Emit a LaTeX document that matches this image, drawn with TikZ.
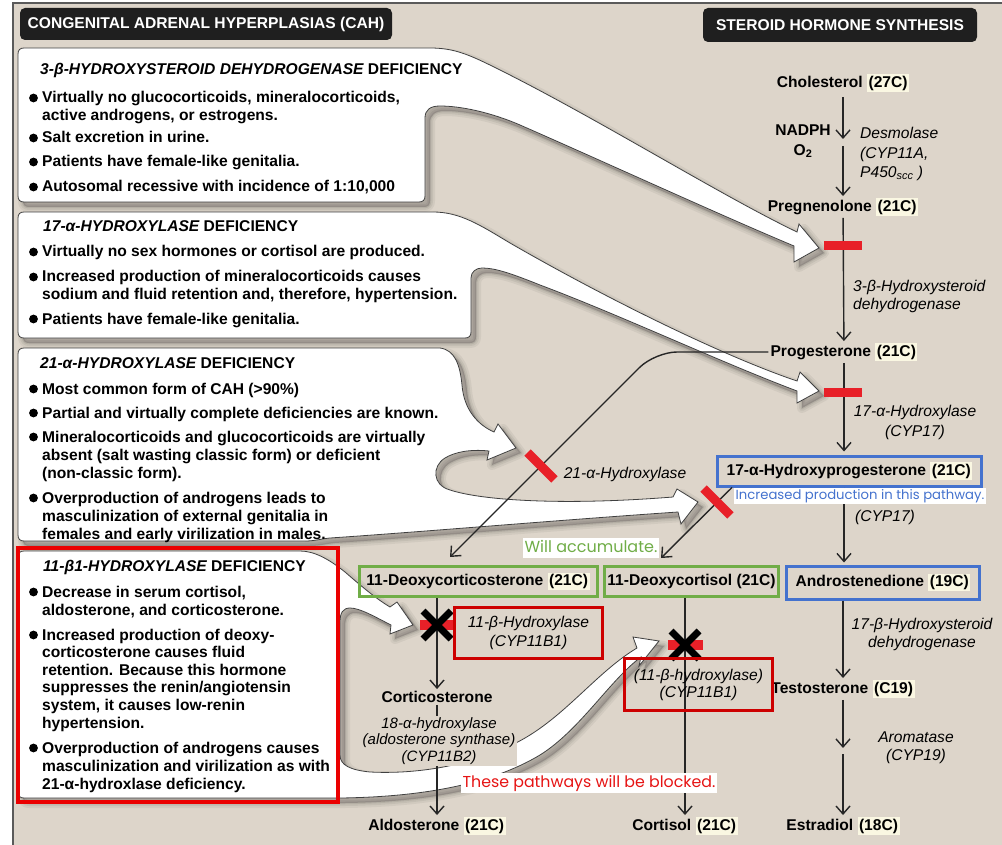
\documentclass[tikz,border=0pt]{standalone}
\usepackage{fontspec}
\setmainfont{Liberation Sans}
\newfontfamily\annofont{Poppins}
\usetikzlibrary{arrows.meta}
\definecolor{beige}{RGB}{221,213,202}
\definecolor{hly}{RGB}{250,247,226}
\definecolor{myblue}{RGB}{68,114,206}
\definecolor{mygreen}{RGB}{112,173,71}
\definecolor{boxred}{RGB}{205,0,0}
\definecolor{bigred}{RGB}{235,0,0}
\definecolor{barred}{RGB}{232,32,40}
\definecolor{annored}{RGB}{230,20,20}
\definecolor{framegray}{RGB}{90,90,90}
\newcommand\hl[1]{{\setlength{\fboxsep}{1.5pt}\colorbox{hly}{#1}}}
\newcommand\fsz{\fontsize{15.6}{18}\selectfont}
\newcommand\pbl[2]{\parbox[t]{#1}{\raggedright #2}}
\def\shpA{(24,48) -- (430,48) .. controls (455,48) and (470,55) .. (500,70) .. controls (600,120) and (720,195) .. (797,232) -- (799,224) -- (819,248) -- (794,262) -- (794,246) .. controls (720,215) and (600,160) .. (520,125) .. controls (490,112) and (460,106) .. (440,106) .. controls (430,106) and (425,110) .. (425,118) -- (425,196) .. controls (425,200) and (423,202) .. (419,202) -- (24,202) .. controls (20,202) and (18,200) .. (18,196) -- (18,54) .. controls (18,50) and (20,48) .. (24,48) -- cycle}
\def\shpB{(24,212) -- (433,212) .. controls (460,212) and (480,225) .. (510,243) .. controls (600,295) and (720,355) .. (797,381) -- (800,372) -- (819,391) -- (797,403) -- (797,391) .. controls (720,362) and (620,315) .. (540,285) .. controls (510,273) and (495,268) .. (482,268) .. controls (476,268) and (471,272) .. (471,278) -- (471,332) .. controls (471,336) and (469,338) .. (465,338) -- (24,338) .. controls (20,338) and (18,336) .. (18,332) -- (18,218) .. controls (18,214) and (20,212) .. (24,212) -- cycle}
\def\shpC{(24,348) -- (440,348) .. controls (455,350) and (460,365) .. (462,385) .. controls (464,410) and (478,425) .. (494,432) -- (498,424) -- (516,448) -- (487,460) -- (489,451) .. controls (470,449) and (455,452) .. (445,458) .. controls (432,466) and (432,485) .. (450,490) .. controls (480,500) and (560,506) .. (673,497) -- (677,489) -- (698,502) -- (681,524) -- (678,512) .. controls (560,520) and (420,532) .. (330,538) .. controls (320,539) and (315,541) .. (305,541) -- (24,541) .. controls (20,541) and (18,539) .. (18,535) -- (18,354) .. controls (18,350) and (20,348) .. (24,348) -- cycle}
\def\shpD{(24,551) -- (300,551) .. controls (315,551) and (330,560) .. (345,572) .. controls (360,585) and (375,598) .. (390,607) -- (397,602) -- (413,625) -- (390,634) -- (391,625) .. controls (375,617) and (360,608) .. (350,608) .. controls (343,608) and (340,613) .. (340,622) -- (340,755) .. controls (340,765) and (350,770) .. (370,772) .. controls (430,775) and (490,760) .. (530,735) .. controls (570,710) and (600,670) .. (637,648) -- (633,637) -- (659,641) -- (639,666) -- (641,657) .. controls (610,680) and (580,730) .. (540,755) .. controls (490,785) and (420,797) .. (340,798) -- (24,798) .. controls (20,798) and (18,796) .. (18,792) -- (18,557) .. controls (18,553) and (20,551) .. (24,551) -- cycle}
\newcommand\shadowit[1]{%
  \filldraw[black, opacity=0.05, line width=10pt, line join=round, shift={(5,5)}] #1;
  \filldraw[black, opacity=0.06, line width=6pt, line join=round, shift={(5,5)}] #1;
  \filldraw[black, opacity=0.08, line width=2.5pt, line join=round, shift={(5,5)}] #1;}
\begin{document}
\begin{tikzpicture}[x=1pt,y=-1pt,
  arr/.style={draw=black!85, line width=1.4pt, -{Straight Barb[length=8pt,width=14pt]}},
  xm/.style={draw=black, line width=7pt},
  ttl/.style={anchor=base west, inner sep=0pt, font=\fsz\bfseries},
  itm/.style={anchor=base west, inner sep=0pt, font=\fsz\bfseries},
  lbl/.style={font=\fsz\bfseries, inner sep=2pt},
  enz/.style={font=\fsz\itshape, inner sep=0pt},
  cbox/.style={lbl, line width=3pt, inner sep=0pt, minimum height=30pt},
  rbox/.style={draw=boxred, line width=3.5pt, inner sep=0pt, align=center},
  bar/.style={fill=barred, minimum width=38pt, minimum height=9pt, inner sep=0pt},
  anno/.style={fill=white, inner sep=1.5pt},
  hdr/.style={fill=black!88, rounded corners=5pt, text=white, font=\fsz\bfseries, inner sep=0pt}]
\useasboundingbox (0,0) rectangle (1002,845);
\fill[white] (0,0) rectangle (1002,845);
\fill[beige] (13,3) rectangle (1002,845);
\draw[framegray, line width=1.5pt] (13,845) -- (13,3) -- (1002,3);
% headers
\node[hdr, minimum width=372pt, minimum height=32pt] (h1) at (206,24) {CONGENITAL ADRENAL HYPERPLASIAS (CAH)};
\node[hdr, minimum width=274pt, minimum height=34pt] (h2) at (840,25) {STEROID HORMONE SYNTHESIS};
% shadows and white callout shapes
\shadowit{\shpA}
\shadowit{\shpB}
\shadowit{\shpC}
\shadowit{\shpD}
\filldraw[fill=white, draw=black!75, line width=0.8pt] \shpA;
\filldraw[fill=white, draw=black!75, line width=0.8pt] \shpB;
\filldraw[fill=white, draw=black!75, line width=0.8pt] \shpC;
\filldraw[fill=white, draw=black!75, line width=0.8pt] \shpD;
% box 1
\node[ttl] (t1) at (40,75) {\itshape 3-β-HYDROXYSTEROID DEHYDROGENASE\upshape{} DEFICIENCY};
\node[itm] (i11) at (42,103) {\pbl{460pt}{Virtually no glucocorticoids, mineralocorticoids,\\active androgens, or estrogens.}};
\node[itm] (i12) at (42,143) {\pbl{460pt}{Salt excretion in urine.}};
\node[itm] (i13) at (42,167) {\pbl{460pt}{Patients have female-like genitalia.}};
\node[itm] (i14) at (42,192) {\pbl{460pt}{Autosomal recessive with incidence of 1:10,000}};
% box 2
\node[ttl] (t2) at (43,232) {\itshape 17-α-HYDROXYLASE\upshape{} DEFICIENCY};
\node[itm] (i21) at (42,257) {\pbl{460pt}{Virtually no sex hormones or cortisol are produced.}};
\node[itm] (i22) at (42,282) {\pbl{460pt}{Increased production of mineralocorticoids causes\\sodium and fluid retention and, therefore, hypertension.}};
\node[itm] (i23) at (42,324) {\pbl{460pt}{Patients have female-like genitalia.}};
% box 3
\node[ttl] (t3) at (40,368) {\itshape 21-α-HYDROXYLASE\upshape{} DEFICIENCY};
\node[itm] (i31) at (42,394) {\pbl{460pt}{Most common form of CAH (>90\%)}};
\node[itm] (i32) at (42,418) {\pbl{460pt}{Partial and virtually complete deficiencies are known.}};
\node[itm] (i33) at (42,442) {\pbl{460pt}{Mineralocorticoids and glucocorticoids are virtually\\absent (salt wasting classic form) or deficient\\(non-classic form).}};
\node[itm] (i34) at (42,503) {\pbl{460pt}{Overproduction of androgens leads to\\masculinization of external genitalia in\\females and early virilization in males.}};
% box 4
\node[ttl] (t4) at (43,571) {\itshape 11-β1-HYDROXYLASE\upshape{} DEFICIENCY};
\node[itm] (i41) at (42,597) {\pbl{460pt}{Decrease in serum cortisol,\\aldosterone, and corticosterone.}};
\node[itm] (i42) at (42,640) {\pbl{460pt}{\fontsize{15.6}{17.6}\selectfont Increased production of deoxy-\\corticosterone causes fluid\\retention. Because this hormone\\suppresses the renin/angiotensin\\system, it causes low-renin\\hypertension.}};
\node[itm] (i43) at (42,753) {\pbl{460pt}{Overproduction of androgens causes\\masculinization and virilization as with\\21-α-hydroxlase deficiency.}};
% bullets
\foreach \by in {103,143,167,192,257,282,324,394,418,442,503,597,640,753}
  \fill (33.5,\by-5) circle[radius=4.4pt];
% pathway nodes
\node[lbl] (chol) at (843,83) {Cholesterol \hl{(27C)}};
\node[lbl, align=center] (nadph) at (803,141) {NADPH\\[2pt]O\textsubscript{2}};
\node[enz, align=left, anchor=west, font=\fontsize{15.6}{19.5}\selectfont\itshape] (desm) at (860,154) {Desmolase\\(CYP11A,\\P450\textsubscript{scc} )};
\node[lbl] (preg) at (843,207) {Pregnenolone \hl{(21C)}};
\node[enz, align=left, anchor=west] (hsd3) at (853,296) {3-β-Hydroxysteroid\\dehydrogenase};
\node[lbl] (prog) at (844,352) {Progesterone \hl{(21C)}};
\node[enz, align=center, font=\fontsize{15.6}{20}\selectfont\itshape] (cyp17a) at (915,422) {17-α-Hydroxylase\\(CYP17)};
\node[cbox, draw=myblue, minimum width=264pt] (ohp) at (849.5,471) {17-α-Hydroxyprogesterone \hl{(21C)}};
\node[enz] (cyp17b) at (885,517) {(CYP17)};
\node[enz] (h21) at (625,474) {21-α-Hydroxylase};
\node[cbox, draw=mygreen, minimum width=238pt] (doc) at (478,581.5) {11-Deoxycorticosterone \hl{(21C)}};
\node[cbox, draw=mygreen, minimum width=174pt] (dcort) at (691.5,581.5) {11-Deoxycortisol (21C)};
\node[cbox, draw=myblue, minimum width=193pt, minimum height=33pt] (andro) at (883,582.5) {Androstenedione \hl{(19C)}};
\node[enz, align=center] (hsd17) at (922,634) {17-β-Hydroxysteroid\\dehydrogenase};
\node[lbl] (cortico) at (437,697) {Corticosterone};
\node[lbl] (testo) at (843,689) {Testosterone \hl{(C19)}};
\node[enz, align=center] (arom) at (916,748) {Aromatase\\(CYP19)};
\node[lbl] (aldo) at (437,826) {Aldosterone \hl{(21C)}};
\node[lbl] (cortisol) at (685,826) {Cortisol \hl{(21C)}};
\node[lbl] (estra) at (843,826) {Estradiol \hl{(18C)}};
\coordinate (c1) at (843,139);
\coordinate (c2) at (843,146);
\coordinate (c3) at (843,748);
\coordinate (c4) at (843,754);
\coordinate (docin) at (450,557);
\coordinate (dcin) at (661,558);
% connectors
\draw[arr, shorten <=3pt] (chol) -- (c1);
\draw[arr] (c2) -- (preg);
\draw[arr] (preg) -- (prog);
\draw[arr, shorten >=3pt] (prog) -- (prog |- ohp.north);
\draw[arr, shorten >=2pt] (prog |- ohp.south) -- (prog |- andro.north);
\draw[arr] (testo |- andro.south) -- (testo);
\draw[arr] (testo) -- (c3);
\draw[arr] (c4) -- (estra);
\draw[arr] (cortico |- doc.south) -- (cortico);
\draw[arr] (cortico) -- (aldo);
\draw[arr] (cortisol |- dcort.south) -- (cortisol);
\draw[arr, rounded corners=22pt] (prog.west) -- (655,352) -- (docin);
\draw[arr] ([xshift=16pt]ohp.south west) -- (dcin);
% label covering the arrow
\node[fill=beige, inner sep=2pt, font=\fontsize{15}{16.5}\selectfont\itshape, align=center] (ald) at (439,741) {18-α-hydroxylase\\(aldosterone synthase)\\(CYP11B2)};
% blocks
\node[bar] (bar1) at (843,246) {};
\node[bar] (bar2) at (843,392) {};
\node[bar, rotate=-45] (bar3) at (541,466) {};
\node[bar, rotate=-45] (bar4) at (717,502) {};
\node[bar, minimum width=35pt, minimum height=10pt] (bar5) at (437,625) {};
\node[bar, minimum width=35pt, minimum height=10pt] (bar6) at (685,645) {};
\draw[xm] ([shift={(-14,-14)}]bar5.center) -- ([shift={(14,14)}]bar5.center);
\draw[xm] ([shift={(-14,14)}]bar5.center) -- ([shift={(14,-14)}]bar5.center);
\draw[xm] ([shift={(-14,-14)}]bar6.center) -- ([shift={(14,14)}]bar6.center);
\draw[xm] ([shift={(-14,14)}]bar6.center) -- ([shift={(14,-14)}]bar6.center);
% red enzyme boxes
\node[rbox, minimum width=148pt, minimum height=51pt, font=\fontsize{15.6}{19}\selectfont\itshape] (rb1) at (528.5,633) {11-β-Hydroxylase\\(CYP11B1)};
\node[rbox, minimum width=148pt, minimum height=52pt, font=\fontsize{15.6}{17}\selectfont\itshape] (rb2) at (698.5,684.5) {(11-β-hydroxylase)\\(CYP11B1)};
\draw[bigred, line width=4pt] (18,548) rectangle (338,802);
% annotations
\node[anno, text=myblue, font=\annofont\fontsize{13.2}{14}\selectfont, text height=10pt, text depth=3pt] (inc) at (860,495.5) {Increased production in this pathway.};
\node[anno, text=mygreen, font=\annofont\fontsize{16}{17}\selectfont, text height=13pt, text depth=4pt] (acc) at (591,548) {Will accumulate.};
\node[anno, text=annored, font=\annofont\fontsize{15.8}{17}\selectfont, text height=13pt, text depth=4pt] (blk) at (589,782.5) {These pathways will be blocked.};
\end{tikzpicture}
\end{document}
